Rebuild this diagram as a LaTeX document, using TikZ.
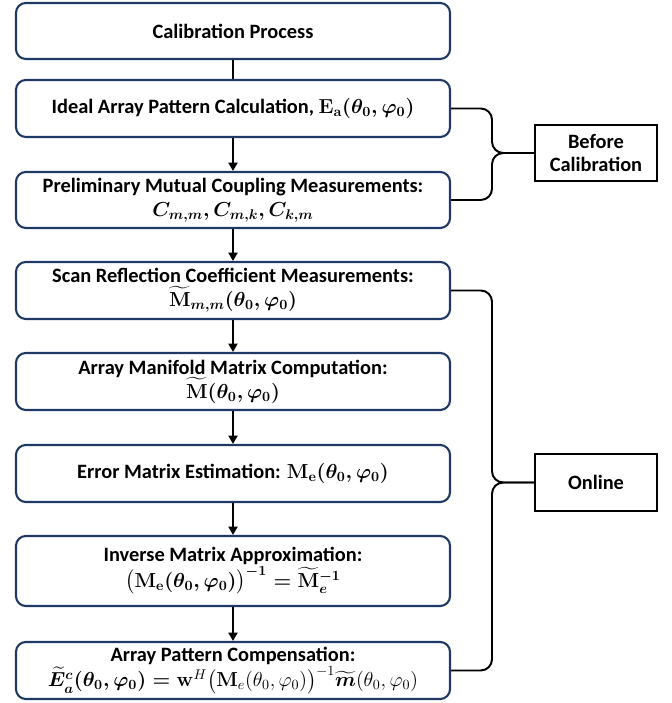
\documentclass[tikz,border=0pt]{standalone}
\usepackage{amsmath,bm}
\usepackage[no-math]{fontspec}
\setmainfont{Carlito}
\usetikzlibrary{positioning,arrows.meta}
\definecolor{calibNavy}{HTML}{1F3864}

\tikzset{
  stepbox/.style={draw=calibNavy,line width=1.5pt,rounded corners=7pt,
    minimum width=10.85cm,align=center,inner sep=2pt,
    font=\fontsize{14.5}{17}\selectfont\bfseries\boldmath},
  tagbox/.style={draw=black,line width=0.9pt,minimum width=3.05cm,
    align=center,font=\fontsize{14.5}{17}\selectfont\bfseries},
  flow/.style={-{Triangle[length=6pt,width=6.5pt]},line width=1.4pt},
  bracearm/.style={line width=1.4pt,rounded corners=8pt}
}
\newcommand{\angs}{(\theta_0,\varphi_0)}
\newcommand{\plainpart}[1]{\mbox{\mathversion{normal}$#1$}}

\begin{document}
\begin{tikzpicture}
  \useasboundingbox (0,0) rectangle (16.8,17.575);
  % process steps
  \node[stepbox,minimum height=1.4cm] (s1) at (5.825,16.8) {Calibration Process};
  \node[stepbox,minimum height=1.425cm] (s2) at (5.825,14.8625)
    {Ideal Array Pattern Calculation, $\mathbf{E}_{\mathbf{a}}\angs$};
  \node[stepbox,minimum height=1.4cm] (s3) at (5.825,12.575)
    {Preliminary Mutual Coupling Measurements:\\
     $C_{m,m}, C_{m,k}, C_{k,m}$};
  \node[stepbox,minimum height=1.425cm] (s4) at (5.825,10.3125)
    {Scan Reflection Coefficient Measurements:\\
     $\widetilde{\mathbf{M}}_{m,m}\angs$};
  \node[stepbox,minimum height=1.425cm] (s5) at (5.825,8.0375)
    {Array Manifold Matrix Computation:\\
     $\widetilde{\mathbf{M}}\angs$};
  \node[stepbox,minimum height=1.425cm] (s6) at (5.825,5.7375)
    {Error Matrix Estimation: $\mathbf{M}_{\mathbf{e}}\angs$};
  \node[stepbox,minimum height=1.75cm] (s7) at (5.825,3.3)
    {Inverse Matrix Approximation:\\
     $\bigl(\mathbf{M}_{\mathbf{e}}\angs\bigr)^{\mathbf{-1}}
      = \widetilde{\mathbf{M}}_e^{-1}$};
  \node[stepbox,minimum height=1.425cm] (s8) at (5.825,0.8125)
    {Array Pattern Compensation:\\
     $\widetilde{E}_a^c\angs = {}$\plainpart{\mathbf{w}^H
      \bigl(\mathbf{M}_e(\theta_0,\varphi_0)\bigr)^{-1}
      \widetilde{\bm{m}}(\theta_0,\varphi_0)}};

  % phase labels
  \node[tagbox,minimum height=1.4cm] (before) at (14.9,13.75) {Before\\Calibration};
  \node[tagbox,minimum height=1.425cm] (online) at (14.9,5.5125) {Online};

  % connectors
  \draw[line width=1.4pt] (s1) -- (s2);
  \foreach \a/\b in {s2/s3,s3/s4,s4/s5,s5/s6,s6/s7,s7/s8}
    \draw[flow] (\a) -- (\b);

  % braces
  \coordinate (beforeTip) at (12.3,13.75);
  \coordinate (onlineTip) at (12.3,5.5125);
  \draw[bracearm] (s2.east) -| (beforeTip) -- (before.west);
  \draw[bracearm] (s3.east) -| (beforeTip) -- (before.west);
  \draw[bracearm] (s4.east) -| (onlineTip) -- (online.west);
  \draw[bracearm] (s8.east) -| (onlineTip) -- (online.west);
\end{tikzpicture}
\end{document}
